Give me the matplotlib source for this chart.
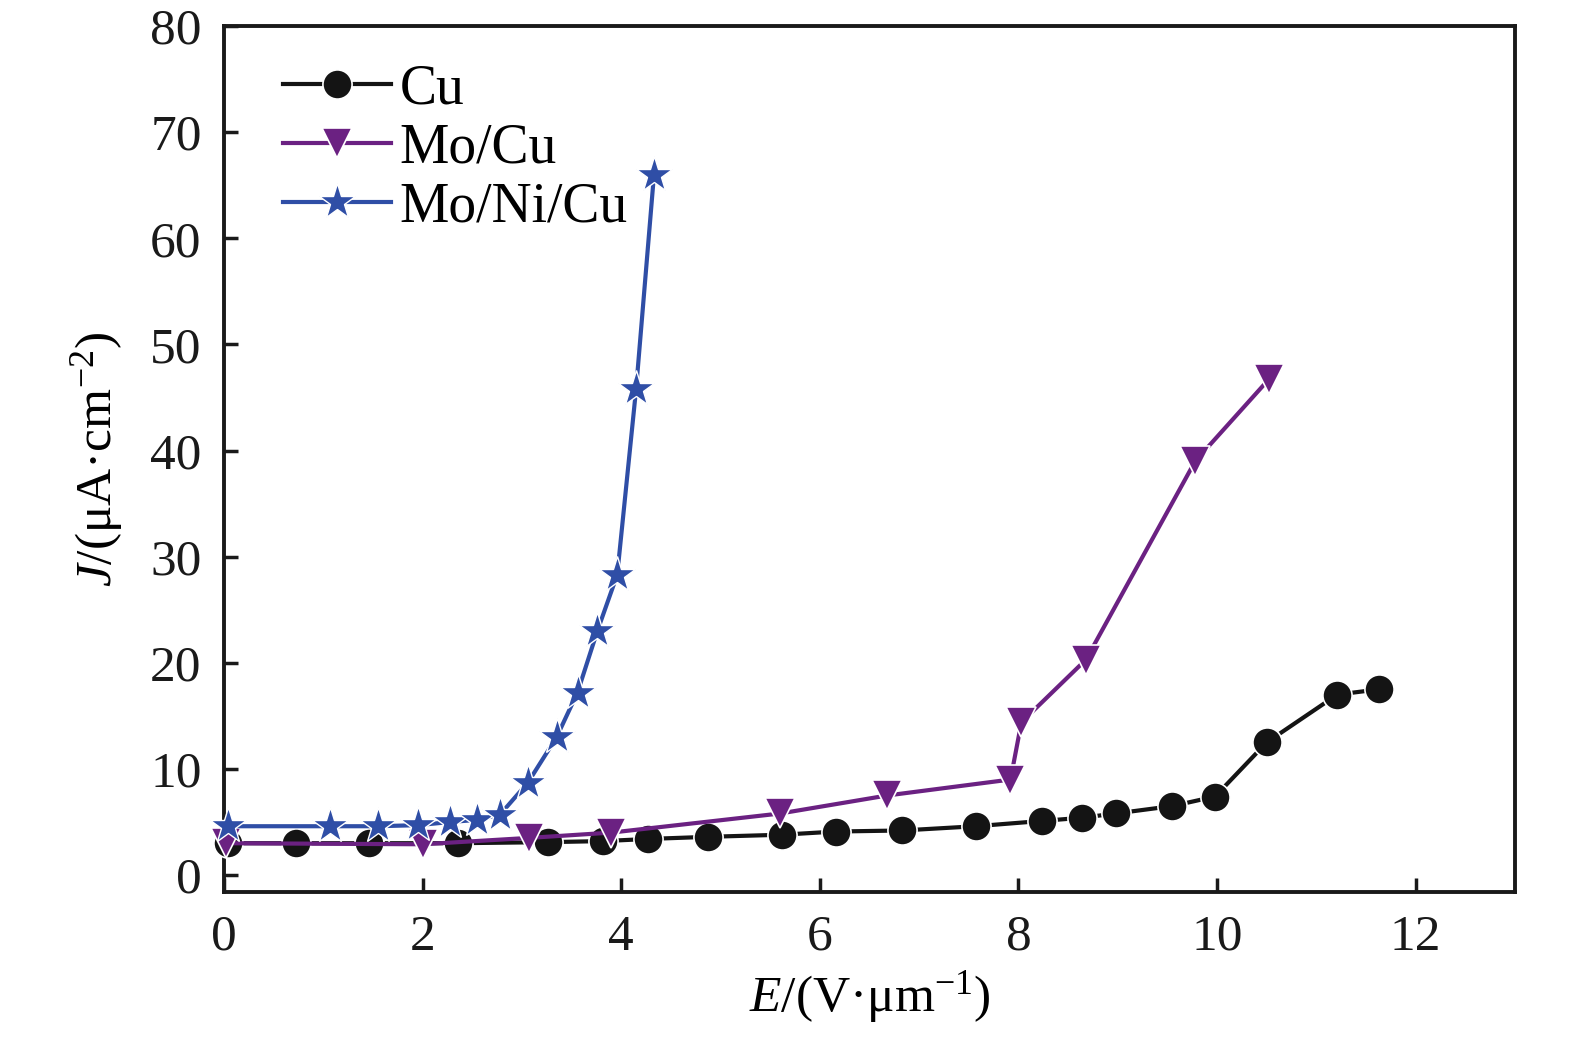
import matplotlib
matplotlib.use("Agg")
import matplotlib.pyplot as plt

# ---- data ----
cu_x = [0.04, 0.73, 1.46, 2.36, 3.26, 3.82, 4.27, 4.87, 5.62, 6.16, 6.83, 7.57, 8.24, 8.64, 8.98, 9.55, 9.98, 10.50, 11.21, 11.63]
cu_y = [3.0, 3.0, 3.0, 3.0, 3.1, 3.2, 3.4, 3.6, 3.8, 4.1, 4.2, 4.6, 5.1, 5.4, 5.8, 6.5, 7.4, 12.5, 17.0, 17.5]

mocu_x = [0.02, 2.0, 3.07, 3.9, 5.6, 6.68, 7.92, 8.03, 8.68, 9.78, 10.52]
mocu_y = [3.0, 2.9, 3.5, 4.0, 5.8, 7.5, 9.0, 14.4, 20.3, 39.0, 46.7]

monicu_x = [0.04, 1.07, 1.55, 1.95, 2.28, 2.55, 2.78, 3.06, 3.35, 3.56, 3.76, 3.96, 4.15, 4.33]
monicu_y = [4.6, 4.6, 4.6, 4.7, 5.0, 5.2, 5.7, 8.7, 13.0, 17.2, 23.0, 28.3, 45.8, 66.0]

series_labels = ["Cu", "Mo/Cu", "Mo/Ni/Cu"]
x_ticks = [0, 2, 4, 6, 8, 10, 12]
y_ticks = [0, 10, 20, 30, 40, 50, 60, 70, 80]

plt.rcParams['font.family'] = ['Liberation Serif', 'DejaVu Serif']
plt.rcParams['mathtext.fontset'] = 'custom'
plt.rcParams['mathtext.rm'] = 'Liberation Serif'
plt.rcParams['mathtext.it'] = 'Liberation Serif:italic'

fig = plt.figure(figsize=(15.75, 10.37), dpi=100)
ax = fig.add_axes([0.1422, 0.1398, 0.9619 - 0.1422, 0.9749 - 0.1398])

black = '#141414'
purple = '#6b2182'
blue = '#2f4ea6'

ax.plot(cu_x, cu_y, '-', color=black, lw=3.0, marker='o', ms=21,
        mfc=black, mec='white', mew=1.2, label=series_labels[0], clip_on=False, zorder=3)
ax.plot(mocu_x, mocu_y, '-', color=purple, lw=3.0, marker='v', ms=22,
        mfc=purple, mec='white', mew=1.2, label=series_labels[1], clip_on=False, zorder=3)
ax.plot(monicu_x, monicu_y, '-', color=blue, lw=3.0, marker='*', ms=27,
        mfc=blue, mec='white', mew=1.0, label=series_labels[2], clip_on=False, zorder=4)

ax.set_xlim(0, 13)
ax.set_ylim(-1.6, 80)
ax.set_xticks(x_ticks)
ax.set_yticks(y_ticks)
ax.tick_params(axis='y', which='major', direction='in', length=10, width=2.5,
               labelsize=37, pad=16, colors='#1a1a1a', right=False)
ax.tick_params(axis='x', which='major', direction='in', length=10, width=2.5,
               labelsize=37, pad=16, colors='#1a1a1a', top=False)
for s in ax.spines.values():
    s.set_linewidth(2.8)
    s.set_color('#1a1a1a')

ax.set_xlabel(r'$\mathit{E}$/(V·μm$^{-1}$)', fontsize=37, labelpad=6)
ax.set_ylabel(r'$\mathit{J}$/(μA·cm$^{-2}$)', fontsize=37, labelpad=18)

leg = ax.legend(loc='upper left', bbox_to_anchor=(0.02, 0.995), fontsize=40, frameon=False,
                handlelength=1.95, handletextpad=0.15, labelspacing=0.12, borderaxespad=0.2)

fig.savefig('out.png', dpi=100)
